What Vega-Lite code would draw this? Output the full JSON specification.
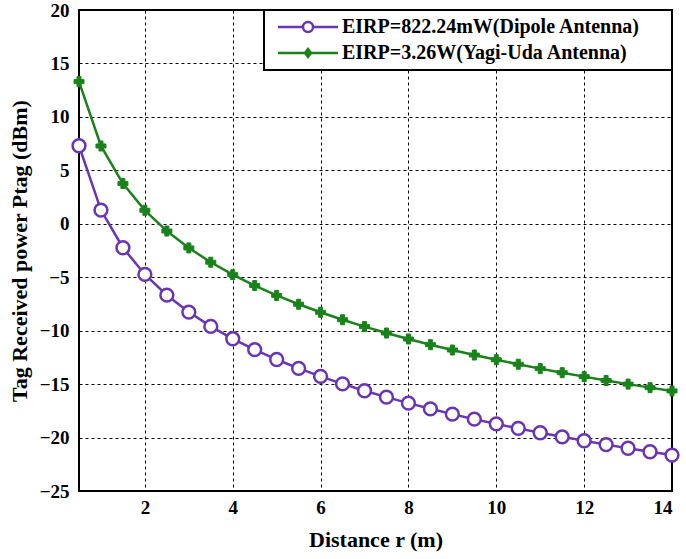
{
  "$schema": "https://vega.github.io/schema/vega-lite/v6.json",
  "width": 593,
  "height": 481,
  "autosize": {"type": "none"},
  "padding": {"left": 79, "top": 10, "right": 14, "bottom": 68},
  "background": "white",
  "config": {
    "font": "Liberation Serif",
    "view": {"stroke": "black", "strokeWidth": 2},
    "axis": {
      "labelFont": "Liberation Serif",
      "labelFontWeight": "bold",
      "labelFontSize": 19,
      "labelColor": "black",
      "titleFont": "Liberation Serif",
      "titleFontWeight": "bold",
      "titleFontSize": 22,
      "titleColor": "black",
      "grid": true,
      "gridColor": "black",
      "gridDash": [3, 3],
      "gridWidth": 1,
      "gridOpacity": 1,
      "domain": false,
      "ticks": false
    }
  },
  "data": {
    "values": [
      {"r": 0.5, "p": 7.3, "s": "EIRP=822.24mW(Dipole Antenna)"},
      {"r": 1.0, "p": 1.28, "s": "EIRP=822.24mW(Dipole Antenna)"},
      {"r": 1.5, "p": -2.24, "s": "EIRP=822.24mW(Dipole Antenna)"},
      {"r": 2.0, "p": -4.74, "s": "EIRP=822.24mW(Dipole Antenna)"},
      {"r": 2.5, "p": -6.68, "s": "EIRP=822.24mW(Dipole Antenna)"},
      {"r": 3.0, "p": -8.26, "s": "EIRP=822.24mW(Dipole Antenna)"},
      {"r": 3.5, "p": -9.6, "s": "EIRP=822.24mW(Dipole Antenna)"},
      {"r": 4.0, "p": -10.76, "s": "EIRP=822.24mW(Dipole Antenna)"},
      {"r": 4.5, "p": -11.78, "s": "EIRP=822.24mW(Dipole Antenna)"},
      {"r": 5.0, "p": -12.7, "s": "EIRP=822.24mW(Dipole Antenna)"},
      {"r": 5.5, "p": -13.53, "s": "EIRP=822.24mW(Dipole Antenna)"},
      {"r": 6.0, "p": -14.28, "s": "EIRP=822.24mW(Dipole Antenna)"},
      {"r": 6.5, "p": -14.98, "s": "EIRP=822.24mW(Dipole Antenna)"},
      {"r": 7.0, "p": -15.62, "s": "EIRP=822.24mW(Dipole Antenna)"},
      {"r": 7.5, "p": -16.22, "s": "EIRP=822.24mW(Dipole Antenna)"},
      {"r": 8.0, "p": -16.78, "s": "EIRP=822.24mW(Dipole Antenna)"},
      {"r": 8.5, "p": -17.31, "s": "EIRP=822.24mW(Dipole Antenna)"},
      {"r": 9.0, "p": -17.81, "s": "EIRP=822.24mW(Dipole Antenna)"},
      {"r": 9.5, "p": -18.28, "s": "EIRP=822.24mW(Dipole Antenna)"},
      {"r": 10.0, "p": -18.72, "s": "EIRP=822.24mW(Dipole Antenna)"},
      {"r": 10.5, "p": -19.14, "s": "EIRP=822.24mW(Dipole Antenna)"},
      {"r": 11.0, "p": -19.55, "s": "EIRP=822.24mW(Dipole Antenna)"},
      {"r": 11.5, "p": -19.93, "s": "EIRP=822.24mW(Dipole Antenna)"},
      {"r": 12.0, "p": -20.3, "s": "EIRP=822.24mW(Dipole Antenna)"},
      {"r": 12.5, "p": -20.66, "s": "EIRP=822.24mW(Dipole Antenna)"},
      {"r": 13.0, "p": -21.0, "s": "EIRP=822.24mW(Dipole Antenna)"},
      {"r": 13.5, "p": -21.33, "s": "EIRP=822.24mW(Dipole Antenna)"},
      {"r": 14.0, "p": -21.64, "s": "EIRP=822.24mW(Dipole Antenna)"},
      {"r": 0.5, "p": 13.3, "s": "EIRP=3.26W(Yagi-Uda Antenna)"},
      {"r": 1.0, "p": 7.28, "s": "EIRP=3.26W(Yagi-Uda Antenna)"},
      {"r": 1.5, "p": 3.76, "s": "EIRP=3.26W(Yagi-Uda Antenna)"},
      {"r": 2.0, "p": 1.26, "s": "EIRP=3.26W(Yagi-Uda Antenna)"},
      {"r": 2.5, "p": -0.68, "s": "EIRP=3.26W(Yagi-Uda Antenna)"},
      {"r": 3.0, "p": -2.26, "s": "EIRP=3.26W(Yagi-Uda Antenna)"},
      {"r": 3.5, "p": -3.6, "s": "EIRP=3.26W(Yagi-Uda Antenna)"},
      {"r": 4.0, "p": -4.76, "s": "EIRP=3.26W(Yagi-Uda Antenna)"},
      {"r": 4.5, "p": -5.78, "s": "EIRP=3.26W(Yagi-Uda Antenna)"},
      {"r": 5.0, "p": -6.7, "s": "EIRP=3.26W(Yagi-Uda Antenna)"},
      {"r": 5.5, "p": -7.53, "s": "EIRP=3.26W(Yagi-Uda Antenna)"},
      {"r": 6.0, "p": -8.28, "s": "EIRP=3.26W(Yagi-Uda Antenna)"},
      {"r": 6.5, "p": -8.98, "s": "EIRP=3.26W(Yagi-Uda Antenna)"},
      {"r": 7.0, "p": -9.62, "s": "EIRP=3.26W(Yagi-Uda Antenna)"},
      {"r": 7.5, "p": -10.22, "s": "EIRP=3.26W(Yagi-Uda Antenna)"},
      {"r": 8.0, "p": -10.78, "s": "EIRP=3.26W(Yagi-Uda Antenna)"},
      {"r": 8.5, "p": -11.31, "s": "EIRP=3.26W(Yagi-Uda Antenna)"},
      {"r": 9.0, "p": -11.81, "s": "EIRP=3.26W(Yagi-Uda Antenna)"},
      {"r": 9.5, "p": -12.28, "s": "EIRP=3.26W(Yagi-Uda Antenna)"},
      {"r": 10.0, "p": -12.72, "s": "EIRP=3.26W(Yagi-Uda Antenna)"},
      {"r": 10.5, "p": -13.14, "s": "EIRP=3.26W(Yagi-Uda Antenna)"},
      {"r": 11.0, "p": -13.55, "s": "EIRP=3.26W(Yagi-Uda Antenna)"},
      {"r": 11.5, "p": -13.93, "s": "EIRP=3.26W(Yagi-Uda Antenna)"},
      {"r": 12.0, "p": -14.3, "s": "EIRP=3.26W(Yagi-Uda Antenna)"},
      {"r": 12.5, "p": -14.66, "s": "EIRP=3.26W(Yagi-Uda Antenna)"},
      {"r": 13.0, "p": -15.0, "s": "EIRP=3.26W(Yagi-Uda Antenna)"},
      {"r": 13.5, "p": -15.33, "s": "EIRP=3.26W(Yagi-Uda Antenna)"},
      {"r": 14.0, "p": -15.64, "s": "EIRP=3.26W(Yagi-Uda Antenna)"}
    ]
  },
  "encoding": {
    "x": {
      "field": "r", "type": "quantitative",
      "title": "Distance r (m)",
      "scale": {"domain": [0.5, 14], "nice": false, "zero": false},
      "axis": {"values": [2, 4, 6, 8, 10, 12, 14], "labelPadding": 7, "titlePadding": 12}
    },
    "y": {
      "field": "p", "type": "quantitative",
      "title": "Tag Received power Ptag (dBm)",
      "scale": {"domain": [-25, 20], "nice": false},
      "axis": {"values": [-25, -20, -15, -10, -5, 0, 5, 10, 15, 20], "labelPadding": 10, "titlePadding": 8}
    }
  },
  "layer": [
    {
      "mark": {"type": "line", "strokeWidth": 2.5},
      "encoding": {
        "stroke": {
          "field": "s", "type": "nominal",
          "sort": ["EIRP=822.24mW(Dipole Antenna)", "EIRP=3.26W(Yagi-Uda Antenna)"],
          "scale": {"domain": ["EIRP=822.24mW(Dipole Antenna)", "EIRP=3.26W(Yagi-Uda Antenna)"], "range": ["#6a35b5", "#1a821a"]},
          "legend": {
            "title": null,
            "orient": "top-right",
            "offset": 0,
            "padding": 7,
            "fillColor": "white",
            "strokeColor": "black",
            "labelFont": "Liberation Serif",
            "labelFontWeight": "bold",
            "labelFontSize": 20,
            "labelColor": "black",
            "labelLimit": 600,
            "labelOffset": 24,
            "symbolOffset": 27,
            "symbolSize": 100,
            "symbolStrokeWidth": 2.5,
            "rowPadding": 6,
            "encode": {
              "legend": {"update": {"strokeWidth": {"value": 2}}},
              "symbols": {
                "update": {
                  "shape": [
                    {"test": "datum.value === 'EIRP=822.24mW(Dipole Antenna)'", "value": "M-6,0H-1M1,0H6M1,0A1,1 0 1,1 -1,0A1,1 0 1,1 1,0M70.4,0"},
                    {"value": "M-6,0H6M0,-0.8L0.6,0L0,0.8L-0.6,0ZM70.4,0"}
                  ],
                  "fill": [
                    {"test": "datum.value === 'EIRP=822.24mW(Dipole Antenna)'", "value": "white"},
                    {"value": "#1a821a"}
                  ],
                  "fillOpacity": {"value": 1},
                  "strokeWidth": {"value": 2.5}
                }
              }
            }
          }
        }
      }
    },
    {
      "transform": [{"filter": "datum.s === 'EIRP=822.24mW(Dipole Antenna)'"}],
      "mark": {"type": "point", "shape": "circle", "filled": false, "fill": "white", "fillOpacity": 1, "stroke": "#6a35b5", "strokeWidth": 2.5, "size": 165, "opacity": 1}
    },
    {
      "transform": [{"filter": "datum.s === 'EIRP=3.26W(Yagi-Uda Antenna)'"}],
      "mark": {"type": "point", "shape": "cross", "filled": true, "fill": "#1a821a", "stroke": "#1a821a", "strokeWidth": 1, "size": 100, "opacity": 1}
    }
  ]
}
